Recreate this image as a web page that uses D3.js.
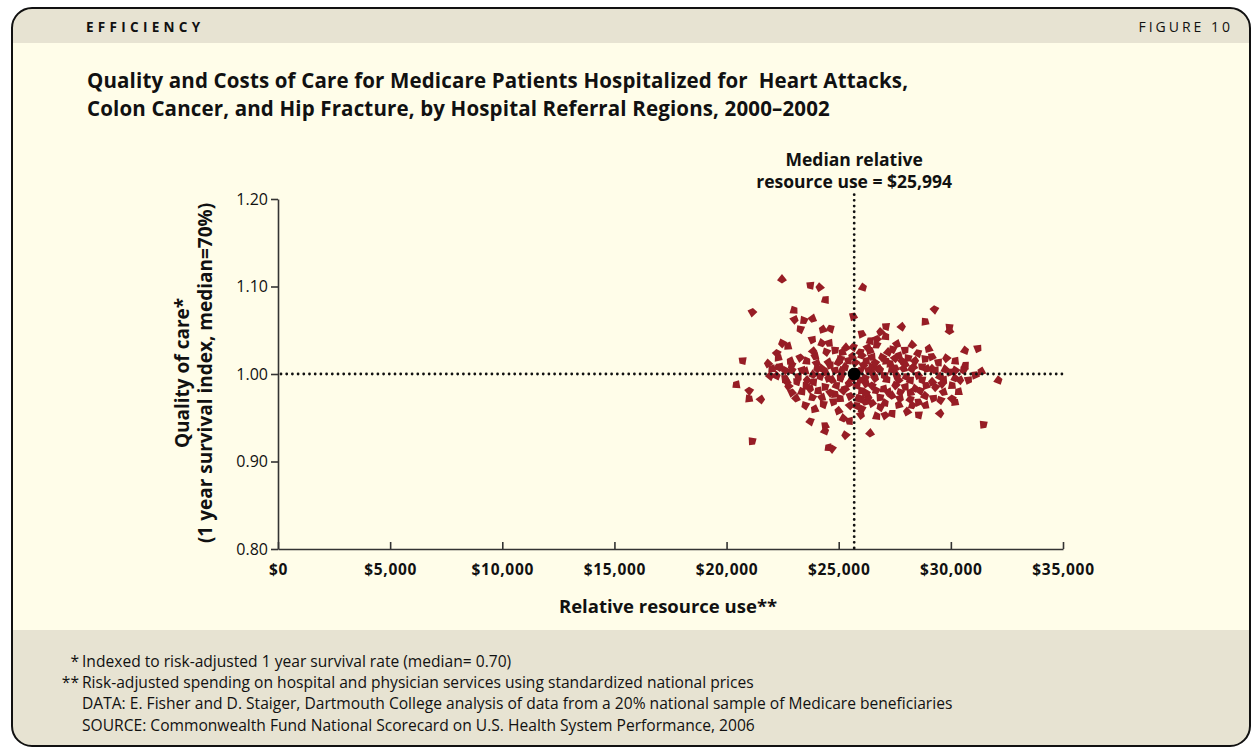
<!DOCTYPE html>
<html>
<head>
<meta charset="utf-8">
<script src="https://cdn.jsdelivr.net/npm/d3@7"></script>
<style>
  body { margin: 0; background: #fff; }
  text { font-family: "Open Sans", "Noto Sans", sans-serif; fill: #111; white-space: pre; }
</style>
</head>
<body>
<script>
// values: cost per region ($) and quality index
const regionCost = [
  22470,23730,24140,24400,21150,23010,23040,23450,23830,23280,
  24280,24630,25650,26090,23830,24250,24570,22470,22730,22240,
  22310,23870,24840,25320,20710,21840,22310,23280,23580,24030,
  22910,24540,25070,25590,25960,26030,25290,24840,24250,23360,
  22610,22020,
  29270,28860,27820,29940,29940,27100,26850,26400,26700,27100,
  26300,26700,27590,27400,29000,28530,29160,30640,31210,26030,
  26480,26930,27670,27820,27300,28410,28860,28330,28710,29160,
  30640,26100,26480,26770,27370,27890,30560,31350,25960,
  31090,32130,30790,30190,29670,29300,30340,30050,30190,29530,
  31460,26400,28560,28040,27370,27070,26700,26000,26030,26180,
  26850,27670,28190,28560,28860,29230,28410,27960,27520,27000,
  26480,26030,26330,26850,27370,28710,29160,28190,27670,27150,
  26630,26180,29670,25960,28930,28260,27520,26850,26330,29750,
  29300,30190,
  20430,21010,21010,21540,21150,22690,23130,23580,23870,22910,
  23360,23730,23830,24250,23500,23920,23730,24400,24400,24770,
  25210,25470,25290,24540,24700,24840,25210,24400,24700,25070,
  25440,25810,25510,25880,22390,22910,23500,24030,24400,25140,
  22610,22240,
  24620,24980,25420,25730,26220,26630,27120,27520,28100,27960,
  24170,24530,24890,25290,25600,26220,26670,27210,27740,28190,
  28630,28900,29530,29970,23860,23190,22750,24080,24620,25070,
  25510,25960,26490,27030,27560,28010,28540,25150,25780,26220,
  23950,24440,25150,25650,26400,27210,27960,28280,29440,29790,
  30190,29610,30060,30420,23550,23100,24310,24980,25780,26490,
  27070,27740,28280,28860,29530,22840,21940
];
const regionQuality = [
  1.108,1.101,1.099,1.085,1.071,1.073,1.062,1.061,1.063,1.051,
  1.051,1.052,1.066,1.099,1.039,1.035,1.035,1.035,1.032,1.024,
  1.019,1.026,1.027,1.030,1.015,1.012,1.008,1.019,1.015,1.012,
  1.010,1.013,1.017,1.020,1.025,1.046,1.008,1.004,1.006,1.004,
  1.004,1.006,
  1.074,1.060,1.054,1.053,1.049,1.054,1.048,1.038,1.040,1.043,
  1.030,1.033,1.034,1.028,1.029,1.024,1.020,1.027,1.029,1.021,
  1.019,1.019,1.021,1.015,1.012,1.015,1.017,1.008,1.008,1.006,
  1.010,1.010,1.008,1.006,1.005,1.006,1.004,1.003,1.004,
  0.999,0.993,0.993,0.995,0.993,0.985,0.980,0.972,0.968,0.955,
  0.942,0.932,0.953,0.957,0.955,0.953,0.952,0.953,0.960,0.968,
  0.962,0.965,0.971,0.968,0.975,0.972,0.983,0.985,0.987,0.983,
  0.987,0.981,0.973,0.973,0.975,0.993,0.991,0.993,0.993,0.994,
  0.995,0.995,0.979,0.972,1.006,1.006,1.007,1.005,1.004,1.005,
  1.004,1.004,
  0.988,0.981,0.972,0.971,0.923,0.991,0.991,0.993,0.991,0.979,
  0.980,0.983,0.973,0.973,0.964,0.960,0.946,0.941,0.935,0.968,
  0.949,0.946,0.930,0.916,0.915,0.977,0.981,0.985,0.993,0.995,
  0.989,0.987,0.975,0.972,1.008,1.004,1.003,1.006,1.002,0.999,
  0.995,0.998,
  1.010,1.013,1.015,1.013,1.015,1.013,1.015,1.018,1.018,1.011,
  0.997,0.995,0.987,0.983,0.995,0.989,0.981,0.979,0.979,0.979,
  0.981,0.987,0.997,1.002,0.999,0.997,0.986,0.981,0.979,0.972,
  0.964,0.993,1.001,0.998,0.999,0.997,0.999,1.004,1.002,0.978,
  1.020,1.025,1.025,1.031,1.027,1.025,1.027,1.033,1.013,1.018,
  1.015,0.989,0.987,0.993,0.986,0.972,0.965,0.958,0.964,0.967,
  0.967,0.972,0.964,0.964,0.970,1.015,0.998
];

const medianCost = 25690;   // where the dotted line sits in the figure
const medianQuality = 1.00;
const xTicks = [0, 5000, 10000, 15000, 20000, 25000, 30000, 35000];
const yTicks = [0.80, 0.90, 1.00, 1.10, 1.20];

const titleLines = [
  "Quality and Costs of Care for Medicare Patients Hospitalized for  Heart Attacks,",
  "Colon Cancer, and Hip Fracture, by Hospital Referral Regions, 2000\u20132002"
];
const medianLabel = ["Median relative", "resource use = $25,994"];
const yLabelLines = ["Quality of care*", "(1 year survival index, median=70%)"];
const xLabel = "Relative resource use**";
const footnotes = [
  ["*", "Indexed to risk-adjusted 1 year survival rate (median= 0.70)"],
  ["**", "Risk-adjusted spending on hospital and physician services using standardized national prices"],
  ["", "DATA: E. Fisher and D. Staiger, Dartmouth College analysis of data from a 20% national sample of Medicare beneficiaries"],
  ["", "SOURCE: Commonwealth Fund National Scorecard on U.S. Health System Performance, 2006"]
];

const W = 1251, H = 748;
const bandColor = "#e7e3d2";
const bodyColor = "#fffde9";
const markColor = "#971d25";

const svg = d3.select("body").append("svg")
    .attr("width", W)
    .attr("height", H);

// frame with rounded corners
const frame = { x: 12, y: 8, w: 1238, h: 738, r: 20 };
svg.append("clipPath").attr("id", "frameClip")
  .append("rect")
    .attr("x", frame.x).attr("y", frame.y)
    .attr("width", frame.w).attr("height", frame.h)
    .attr("rx", frame.r);

const inner = svg.append("g").attr("clip-path", "url(#frameClip)");
inner.append("rect").attr("x", 0).attr("y", 0).attr("width", W).attr("height", H).attr("fill", bodyColor);
inner.append("rect").attr("x", 0).attr("y", 0).attr("width", W).attr("height", 43).attr("fill", bandColor);
inner.append("rect").attr("x", 0).attr("y", 630).attr("width", W).attr("height", H - 630).attr("fill", bandColor);

svg.append("rect")
    .attr("x", frame.x).attr("y", frame.y)
    .attr("width", frame.w).attr("height", frame.h)
    .attr("rx", frame.r)
    .attr("fill", "none")
    .attr("stroke", "#111")
    .attr("stroke-width", 2);

// header
svg.append("text")
    .attr("x", 86).attr("y", 32)
    .attr("font-size", 13.5).attr("font-weight", 700)
    .attr("letter-spacing", 4.3)
    .text("EFFICIENCY");
svg.append("text")
    .attr("x", 1233).attr("y", 32)
    .attr("text-anchor", "end")
    .attr("font-size", 14)
    .attr("letter-spacing", 3)
    .text("FIGURE 10");

// title
svg.append("g").selectAll("text")
  .data(titleLines)
  .enter().append("text")
    .attr("x", 87)
    .attr("y", (d, i) => 88 + i * 28)
    .attr("font-size", 20.5)
    .attr("font-weight", 700)
    .attr("letter-spacing", 0.15)
    .text(d => d);

// scales
const x = d3.scaleLinear().domain([0, 35000]).range([278, 1063]);
const y = d3.scaleLinear().domain([0.8, 1.2]).range([549, 199]);

// y axis
const yAxis = svg.append("g")
    .attr("transform", `translate(${x(0)},0)`)
    .call(d3.axisLeft(y).tickValues(yTicks).tickFormat(d3.format(".2f")).tickSize(7).tickSizeOuter(0).tickPadding(3));
yAxis.select(".domain").attr("stroke", "#333").attr("stroke-width", 1.6);
yAxis.selectAll(".tick line").attr("stroke", "#333").attr("stroke-width", 1.6);
yAxis.selectAll(".tick text")
    .attr("font-family", "'Open Sans', sans-serif")
    .attr("font-size", 16)
    .attr("fill", "#111");

// x axis, ticks point up into the plot
const xAxis = svg.append("g")
    .attr("transform", `translate(0,${y(0.8)})`)
    .call(d3.axisBottom(x).tickValues(xTicks)
      .tickFormat(d => "$" + d3.format(",")(d))
      .tickSize(-7).tickSizeOuter(0).tickPadding(15));
xAxis.select(".domain").attr("stroke", "#333").attr("stroke-width", 1.6);
xAxis.selectAll(".tick line").attr("stroke", "#333").attr("stroke-width", 1.6);
xAxis.selectAll(".tick text")
    .attr("font-family", "'Open Sans', sans-serif")
    .attr("font-size", 15.5)
    .attr("font-weight", 700)
    .attr("letter-spacing", 0.7)
    .attr("fill", "#111");

// axis titles
svg.append("text")
    .attr("x", 668).attr("y", 613)
    .attr("text-anchor", "middle")
    .attr("font-size", 18.5).attr("font-weight", 700)
    .text(xLabel);

svg.append("g")
    .attr("transform", "translate(0,373) rotate(-90)")
  .selectAll("text")
  .data(yLabelLines)
  .enter().append("text")
    .attr("x", 0)
    .attr("y", (d, i) => 189 + i * 23)
    .attr("text-anchor", "middle")
    .attr("font-size", 19).attr("font-weight", 700)
    .text(d => d);

// region marks: small kite shapes, turned a little each
const kite = "M0,-5.6L5,0.7L0,4L-5,0.7Z";
const regions = regionCost.map((c, i) => ({ cost: c, quality: regionQuality[i] }));
svg.append("g").selectAll("path")
  .data(regions)
  .enter().append("path")
    .attr("d", kite)
    .attr("transform", (d, i) => `translate(${x(d.cost)},${y(d.quality)}) rotate(${(i * 47) % 360})`)
    .attr("fill", markColor);

// median reference lines (dotted)
const dotted = g => g.attr("stroke", "#111")
    .attr("stroke-width", 2.8)
    .attr("stroke-linecap", "round")
    .attr("stroke-dasharray", "0,5.7")
    .attr("fill", "none");

svg.append("line")
    .attr("x1", x(0) + 3).attr("x2", x(35000))
    .attr("y1", y(medianQuality)).attr("y2", y(medianQuality))
    .call(dotted);
svg.append("line")
    .attr("x1", x(medianCost)).attr("x2", x(medianCost))
    .attr("y1", y(1.205)).attr("y2", y(0.8))
    .call(dotted);

svg.append("circle")
    .attr("cx", x(medianCost)).attr("cy", y(medianQuality))
    .attr("r", 6.5)
    .attr("fill", "#000");

svg.append("g").selectAll("text")
  .data(medianLabel)
  .enter().append("text")
    .attr("x", x(medianCost))
    .attr("y", (d, i) => 166 + i * 22)
    .attr("text-anchor", "middle")
    .attr("font-size", 17.5).attr("font-weight", 700)
    .text(d => d);

// footnotes
const notes = svg.append("g").selectAll("g")
  .data(footnotes)
  .enter().append("g")
    .attr("transform", (d, i) => `translate(0,${667 + i * 21.2})`);
notes.append("text")
    .attr("x", 79).attr("text-anchor", "end")
    .attr("font-size", 15.6)
    .text(d => d[0]);
notes.append("text")
    .attr("x", 82)
    .attr("font-size", 15.6)
    .text(d => d[1]);
</script>
</body>
</html>
